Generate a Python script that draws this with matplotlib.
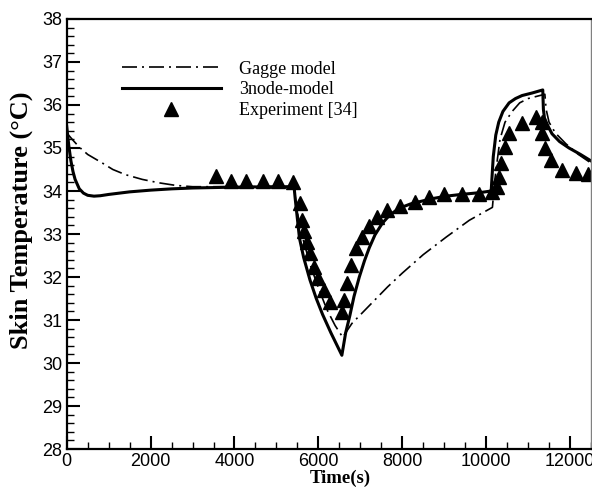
import matplotlib
matplotlib.use("Agg")
import matplotlib.pyplot as plt
from matplotlib.ticker import MultipleLocator

# 3node-model (solid)
node_t = [0, 50, 100, 150, 200, 300, 400, 500, 650, 800, 1000, 1500, 2000, 2500,
          3000, 3500, 4000, 5000, 5420, 5450, 5550, 5650, 5800, 5950, 6100, 6300,
          6450, 6560, 6650, 6750, 6850, 6976, 7100, 7214, 7350, 7524, 7700, 7929,
          8200, 8405, 8700, 9048, 9400, 9833, 10120, 10170, 10230, 10300, 10400,
          10548, 10700, 10857, 11100, 11350, 11365, 11390, 11480, 11571, 11750,
          11976, 12250, 12500]
node_T = [35.5, 35.05, 34.7, 34.45, 34.27, 34.05, 33.95, 33.9, 33.88, 33.89, 33.92,
          33.98, 34.02, 34.05, 34.07, 34.08, 34.09, 34.1, 34.1, 33.8, 32.9, 32.45,
          31.93, 31.5, 31.13, 30.7, 30.4, 30.18, 30.7, 31.1, 31.55, 32.0, 32.38,
          32.68, 32.98, 33.25, 33.44, 33.6, 33.7, 33.75, 33.82, 33.88, 33.92, 33.96,
          34.0, 34.8, 35.3, 35.6, 35.85, 36.05, 36.15, 36.22, 36.28, 36.35, 35.9,
          35.7, 35.5, 35.33, 35.15, 35.0, 34.85, 34.7]

# Gagge model (dash-dot)
gagge_t = [0, 150, 300, 500, 850, 1100, 1400, 1800, 2200, 2600, 3000, 4000, 5420,
           5480, 5600, 5800, 6000, 6200, 6400, 6580, 6800, 7000, 7300, 7650, 8000,
           8500, 9050, 9600, 10150, 10200, 10250, 10330, 10450, 10620, 10800, 11000,
           11200, 11400, 11430, 11500, 11650, 11900, 12200, 12500]
gagge_T = [35.35, 35.18, 35.02, 34.85, 34.65, 34.5, 34.38, 34.27, 34.19, 34.13, 34.1,
           34.1, 34.1, 33.6, 33.0, 32.3, 31.75, 31.25, 30.87, 30.6, 30.92, 31.12,
           31.42, 31.77, 32.09, 32.52, 32.93, 33.32, 33.62, 34.2, 34.6, 35.2, 35.6,
           35.85, 36.05, 36.15, 36.2, 36.25, 35.9, 35.6, 35.35, 35.1, 34.85, 34.65]

# Experiment [34]
exp_t = [3571, 3905, 4286, 4690, 5048, 5405, 5571, 5619, 5667, 5738, 5810, 5905, 6000,
         6143, 6286, 6571, 6619, 6690, 6786, 6905, 7048, 7214, 7405, 7640, 7950, 8310,
         8643, 9000, 9420, 9830, 10150, 10262, 10310, 10357, 10452, 10548, 10857,
         11190, 11333, 11333, 11405, 11548, 11810, 12143, 12429]
exp_T = [34.35, 34.24, 34.24, 34.24, 34.24, 34.2, 33.72, 33.33, 33.07, 32.81, 32.56,
         32.23, 31.98, 31.7, 31.42, 31.19, 31.47, 31.86, 32.28, 32.67, 32.93, 33.19,
         33.4, 33.56, 33.65, 33.74, 33.86, 33.93, 33.93, 33.93, 33.98, 34.09, 34.33,
         34.65, 35.02, 35.35, 35.58, 35.72, 35.6, 35.35, 35.0, 34.72, 34.49, 34.42, 34.4]

fig = plt.figure(figsize=(5.92, 4.87), dpi=100)
ax = fig.add_axes([0.1127, 0.078, 0.8856, 0.883])

ax.plot(gagge_t, gagge_T, color='black', lw=1.2, dashes=(9, 3, 1.2, 3), label='Gagge model')
ax.plot(node_t, node_T, color='black', lw=2.2, label='3node-model')
ax.plot(exp_t, exp_T, ls='none', marker='^', ms=10, color='black', label='Experiment [34]')

ax.set_xlim(0, 12500)
ax.set_ylim(28, 38)
ax.xaxis.set_major_locator(MultipleLocator(2000))
ax.xaxis.set_minor_locator(MultipleLocator(500))
ax.yaxis.set_major_locator(MultipleLocator(1))
ax.yaxis.set_minor_locator(MultipleLocator(0.2))
ax.tick_params(which='both', direction='in', top=False, right=False,
               labelfontfamily='Liberation Sans', labelsize=13)
ax.tick_params(which='major', length=9.5, width=1.5)
ax.tick_params(which='minor', length=5, width=1)
ax.tick_params(axis='y', pad=3)
ax.tick_params(axis='x', pad=3)
for side in ['left', 'bottom', 'top']:
    ax.spines[side].set_linewidth(1.6)
ax.spines['right'].set_linewidth(1)
ax.spines['right'].set_color('grey')

ax.set_xlabel('Time(s)', family='Liberation Serif', fontweight='bold', fontsize=13.5)
ax.xaxis.set_label_coords(0.521, -0.048)
ax.set_ylabel('Skin Temperature (°C)', family='Liberation Serif', fontweight='bold',
              fontsize=19)
ax.yaxis.set_label_coords(-0.064, 0.533)

ax.legend(loc='upper left', bbox_to_anchor=(0.105, 0.903), frameon=False,
          prop={'family': 'Liberation Serif', 'size': 13}, handlelength=5.5,
          handletextpad=1.0, labelspacing=0.2, borderpad=0, borderaxespad=0)

fig.savefig('out.png', dpi=100)
